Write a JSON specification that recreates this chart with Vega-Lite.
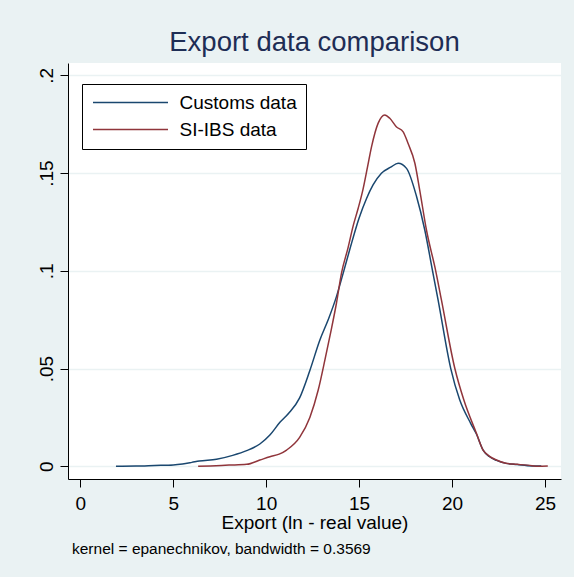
{
  "$schema": "https://vega.github.io/schema/vega-lite/v6.json",
  "background": "#eaf2f3",
  "padding": {"left": 36, "top": 28, "right": 13, "bottom": 20},
  "config": {
    "font": "Liberation Sans",
    "view": {"stroke": null, "fill": "white"},
    "concat": {"spacing": 0}
  },
  "title": {
    "text": "kernel = epanechnikov, bandwidth = 0.3569",
    "orient": "bottom",
    "anchor": "start",
    "frame": "bounds",
    "fontSize": 15.5,
    "fontWeight": "normal",
    "color": "#000000",
    "offset": 10,
    "dx": 35
  },
  "vconcat": [
    {
      "width": 493,
      "height": 416,
      "title": {
        "text": "Export data comparison",
        "anchor": "middle",
        "frame": "group",
        "fontSize": 27.5,
        "fontWeight": "normal",
        "color": "#1e2d55",
        "baseline": "alphabetic",
        "offset": -15
      },
      "data": {
        "values": [
          {"series": "Customs data", "x": 1.92, "y": 0.0},
          {"series": "Customs data", "x": 3.0, "y": 0.0001},
          {"series": "Customs data", "x": 4.0, "y": 0.0004},
          {"series": "Customs data", "x": 5.0, "y": 0.0007},
          {"series": "Customs data", "x": 5.5, "y": 0.0012},
          {"series": "Customs data", "x": 6.0, "y": 0.002},
          {"series": "Customs data", "x": 6.4, "y": 0.0027},
          {"series": "Customs data", "x": 7.33, "y": 0.0036},
          {"series": "Customs data", "x": 8.2, "y": 0.0056},
          {"series": "Customs data", "x": 8.95, "y": 0.008},
          {"series": "Customs data", "x": 9.66, "y": 0.0114},
          {"series": "Customs data", "x": 10.2, "y": 0.016},
          {"series": "Customs data", "x": 10.74, "y": 0.0225},
          {"series": "Customs data", "x": 11.2, "y": 0.027},
          {"series": "Customs data", "x": 11.8, "y": 0.035},
          {"series": "Customs data", "x": 12.35, "y": 0.049},
          {"series": "Customs data", "x": 12.89, "y": 0.0646},
          {"series": "Customs data", "x": 13.33, "y": 0.0748},
          {"series": "Customs data", "x": 13.78, "y": 0.0868},
          {"series": "Customs data", "x": 14.14, "y": 0.0987},
          {"series": "Customs data", "x": 14.5, "y": 0.111},
          {"series": "Customs data", "x": 15.0, "y": 0.127},
          {"series": "Customs data", "x": 15.4, "y": 0.137},
          {"series": "Customs data", "x": 15.75, "y": 0.1439},
          {"series": "Customs data", "x": 16.2, "y": 0.1499},
          {"series": "Customs data", "x": 16.7, "y": 0.153},
          {"series": "Customs data", "x": 17.1, "y": 0.155},
          {"series": "Customs data", "x": 17.55, "y": 0.1524},
          {"series": "Customs data", "x": 18.09, "y": 0.138},
          {"series": "Customs data", "x": 18.53, "y": 0.121},
          {"series": "Customs data", "x": 18.95, "y": 0.1},
          {"series": "Customs data", "x": 19.25, "y": 0.085},
          {"series": "Customs data", "x": 19.93, "y": 0.05},
          {"series": "Customs data", "x": 20.41, "y": 0.034},
          {"series": "Customs data", "x": 21.0, "y": 0.022},
          {"series": "Customs data", "x": 21.31, "y": 0.0165},
          {"series": "Customs data", "x": 21.67, "y": 0.0083},
          {"series": "Customs data", "x": 22.0, "y": 0.005},
          {"series": "Customs data", "x": 22.39, "y": 0.003},
          {"series": "Customs data", "x": 22.9, "y": 0.0015},
          {"series": "Customs data", "x": 23.5, "y": 0.0009},
          {"series": "Customs data", "x": 24.3, "y": 0.0002},
          {"series": "Customs data", "x": 24.8, "y": 0.0001},
          {"series": "SI-IBS data", "x": 6.34, "y": 0.0},
          {"series": "SI-IBS data", "x": 7.0, "y": 0.0002},
          {"series": "SI-IBS data", "x": 8.0, "y": 0.0006},
          {"series": "SI-IBS data", "x": 8.95, "y": 0.001},
          {"series": "SI-IBS data", "x": 9.66, "y": 0.0032},
          {"series": "SI-IBS data", "x": 10.2, "y": 0.0049},
          {"series": "SI-IBS data", "x": 10.7, "y": 0.0062},
          {"series": "SI-IBS data", "x": 11.1, "y": 0.0083},
          {"series": "SI-IBS data", "x": 11.8, "y": 0.0148},
          {"series": "SI-IBS data", "x": 12.35, "y": 0.025},
          {"series": "SI-IBS data", "x": 12.8, "y": 0.039},
          {"series": "SI-IBS data", "x": 13.16, "y": 0.0544},
          {"series": "SI-IBS data", "x": 13.46, "y": 0.068},
          {"series": "SI-IBS data", "x": 13.78, "y": 0.0834},
          {"series": "SI-IBS data", "x": 14.05, "y": 0.0987},
          {"series": "SI-IBS data", "x": 14.41, "y": 0.112},
          {"series": "SI-IBS data", "x": 14.68, "y": 0.123},
          {"series": "SI-IBS data", "x": 14.95, "y": 0.132},
          {"series": "SI-IBS data", "x": 15.2, "y": 0.1413},
          {"series": "SI-IBS data", "x": 15.45, "y": 0.153},
          {"series": "SI-IBS data", "x": 15.67, "y": 0.1635},
          {"series": "SI-IBS data", "x": 16.02, "y": 0.1754},
          {"series": "SI-IBS data", "x": 16.38, "y": 0.1797},
          {"series": "SI-IBS data", "x": 16.65, "y": 0.178},
          {"series": "SI-IBS data", "x": 17.0, "y": 0.1737},
          {"series": "SI-IBS data", "x": 17.37, "y": 0.1711},
          {"series": "SI-IBS data", "x": 17.63, "y": 0.1652},
          {"series": "SI-IBS data", "x": 18.0, "y": 0.155},
          {"series": "SI-IBS data", "x": 18.26, "y": 0.1413},
          {"series": "SI-IBS data", "x": 18.62, "y": 0.121},
          {"series": "SI-IBS data", "x": 19.12, "y": 0.1},
          {"series": "SI-IBS data", "x": 19.43, "y": 0.085},
          {"series": "SI-IBS data", "x": 20.15, "y": 0.05},
          {"series": "SI-IBS data", "x": 20.63, "y": 0.034},
          {"series": "SI-IBS data", "x": 21.31, "y": 0.0169},
          {"series": "SI-IBS data", "x": 21.67, "y": 0.0083},
          {"series": "SI-IBS data", "x": 22.0, "y": 0.0052},
          {"series": "SI-IBS data", "x": 22.39, "y": 0.0032},
          {"series": "SI-IBS data", "x": 22.9, "y": 0.0015},
          {"series": "SI-IBS data", "x": 23.5, "y": 0.001},
          {"series": "SI-IBS data", "x": 24.3, "y": 0.0003},
          {"series": "SI-IBS data", "x": 24.6, "y": 0.0},
          {"series": "SI-IBS data", "x": 25.15, "y": 0.0002}
        ]
      },
      "mark": {"type": "line", "strokeWidth": 1.5, "interpolate": "monotone"},
      "encoding": {
        "x": {
          "field": "x",
          "type": "quantitative",
          "scale": {"domain": [-0.66, 25.86], "nice": false, "zero": false},
          "axis": {
            "values": [0, 5, 10, 15, 20, 25],
            "grid": false,
            "domainColor": "#000000",
            "tickColor": "#000000",
            "tickSize": 8,
            "labelFontSize": 19,
            "labelColor": "#000000",
            "labelBaseline": "alphabetic",
            "labelPadding": 22,
            "labelFlush": false,
            "title": "Export (ln - real value)",
            "titleFontSize": 19,
            "titleFontWeight": "normal",
            "titleColor": "#000000",
            "titlePadding": 0
          }
        },
        "y": {
          "field": "y",
          "type": "quantitative",
          "scale": {"domain": [-0.0065, 0.2063], "nice": false, "zero": false},
          "axis": {
            "values": [0, 0.05, 0.1, 0.15, 0.2],
            "labelExpr": "datum.value == 0 ? '0' : replace(format(datum.value, '.2~f'), '0.', '.')",
            "grid": true,
            "gridColor": "#eaf2f3",
            "gridWidth": 1.5,
            "domainColor": "#000000",
            "tickColor": "#000000",
            "tickSize": 8,
            "labelFontSize": 19,
            "labelColor": "#000000",
            "labelAngle": -90,
            "labelAlign": "center",
            "labelBaseline": "alphabetic",
            "labelPadding": 8,
            "labelFlush": false,
            "title": null
          }
        },
        "color": {
          "field": "series",
          "type": "nominal",
          "scale": {"domain": ["Customs data", "SI-IBS data"], "range": ["#1a476f", "#90353b"]},
          "legend": {
            "title": null,
            "orient": "none",
            "legendX": 14,
            "legendY": 21,
            "strokeColor": "#000000",
            "fillColor": "#ffffff",
            "padding": 9,
            "symbolType": "M-1,0H9",
            "symbolSize": 225,
            "symbolStrokeWidth": 1.5,
            "labelFontSize": 19,
            "labelColor": "#000000",
            "labelOffset": 69.5,
            "rowPadding": 7,
            "labelExpr": "datum.label + '\u00a0\u00a0\u00a0'"
          }
        }
      }
    }
  ]
}
